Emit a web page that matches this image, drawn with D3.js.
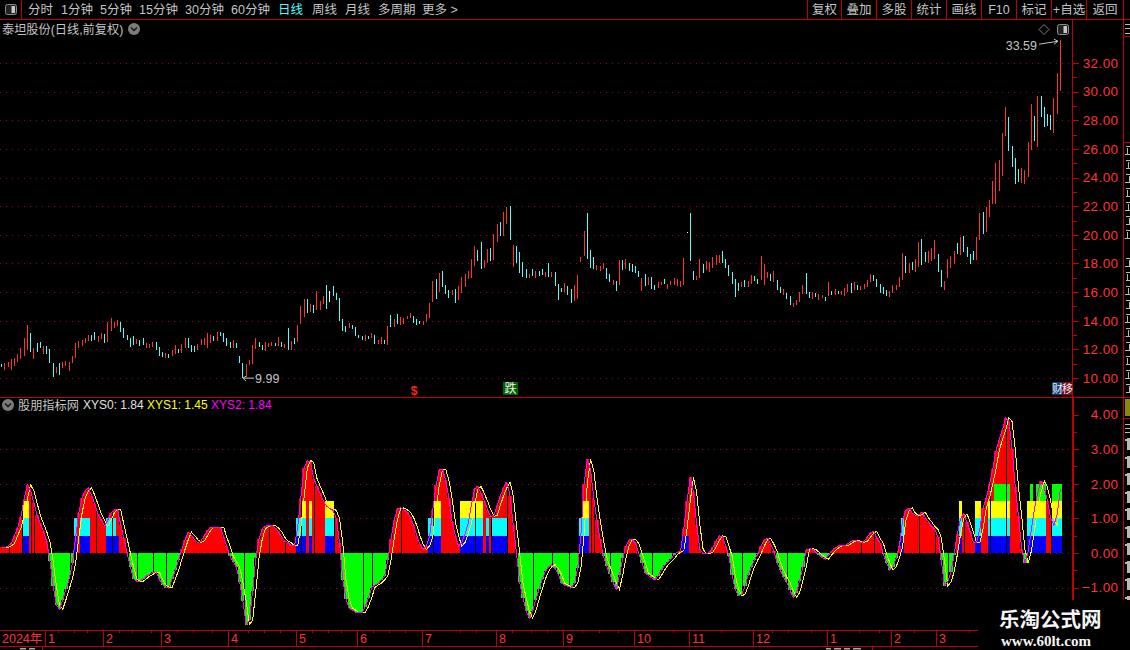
<!DOCTYPE html>
<html>
<head>
<meta charset="utf-8">
<style>
html, body { margin: 0; padding: 0; background: #000; overflow: hidden; }
text { font-family: "Liberation Sans", "Noto Sans CJK SC", sans-serif; }
</style>
<script src="https://cdn.jsdelivr.net/npm/d3@7"></script>
</head>
<body>
<div id="chart"></div>
<script>
// daily bars
const dayHigh = [
  10.98,11.07,11.12,11.3,11.4,11.65,12.1,12.8,13.7,13.15,
  12.1,12.45,12.5,12.24,12.24,12.03,11.05,10.77,11.05,11.12,
  11.2,11.12,11.54,12.45,12.6,12.66,12.8,13,13,13.2,
  12.94,13.15,13.08,13.9,14.2,13.9,14.05,13.9,13.5,13,
  12.8,12.94,12.7,12.66,12.8,12.45,12.38,12.5,12.5,12.17,
  11.8,11.75,11.68,11.96,12.3,12.03,12.38,12.8,12.8,12.3,
  12.24,12.38,12.7,12.8,13.15,13,12.94,13.2,13.2,13.15,
  12.8,12.5,12.66,12.45,11.54,11.05,10.98,11.26,12.3,12.8,
  12.5,12.3,12.5,12.45,12.5,12.45,12.87,
  12.52,12.38,13.5,12.6,12.8,13.7,15.03,15.5,15.5,15.17,
  15.1,16.08,15.38,15.73,16.5,16.08,16.43,15.94,15.6,14.13,
  13.64,13.85,13.7,13.57,13,12.94,13,12.94,13.15,13,
  12.66,12.87,12.66,13.64,14.4,14.13,14.48,14.27,14.2,14.34,
  14.55,14.34,14.13,13.99,13.99,14.48,15.24,16.78,16.9,17.34,
  17.48,16.5,16.15,16.15,16.22,16.43,17.06,17.27,17.48,18.32,
  19.23,18.95,19.5,18.25,19.02,19.09,20.07,20.77,20.9,21.6,
  21.96,22.03,19.3,19.23,18.8,18.1,17.62,17.27,17.62,17.48,
  17.48,17.62,17.41,18.04,17.41,17.41,16.57,
  16.3,16.64,16.43,16.22,16.5,17.2,18.46,20.28,21.54,18.95,
  18.46,17.9,17.83,18.04,17.69,17.27,16.85,16.78,18.25,18.25,
  18.32,18.04,17.97,17.83,17.48,16.99,17.27,17.06,17.06,16.5,
  16.71,16.71,16.92,16.57,16.78,16.99,16.92,16.78,18.39,20.2,
  21.54,17.48,17.13,18.32,17.97,18.18,18.11,18.46,18.6,18.6,
  18.88,18.32,17.9,17.41,16.92,16.64,16.71,16.85,16.78,17.2,
  17.13,16.92,18.53,17.97,17.41,17.27,17.48,16.85,16.36,16.22,
  15.94,15.73,15.24,15.45,16,16.5,17.34,16,16,15.94,
  15.87,15.8,15.66,16.71,16.08,16.22,16.08,
  16.08,16.29,16.57,16.64,16.71,16.5,16.43,16.57,16.85,17.27,
  17.2,16.92,16.57,16.36,16.15,16.08,16.5,16.5,17.06,18.74,
  18.53,18.04,18.11,18.32,19.5,19.72,18.81,18.88,19.09,19.65,
  18.67,17.55,16.78,18.32,18.53,18.88,19.44,19.86,19.93,19.16,
  18.67,18.88,19.86,21.54,21.6,21.96,22.45,23.78,25.03,25.24,
  27.13,28.95,28.25,26.22,25.38,24.62,24.69,24.55,26.5,29.16,
  28.32,29.72,29.72,28.95,28.46,28.39,29.58,31.33,33.59
];
const dayLow = [
  10.77,10.56,10.75,10.56,10.84,11.12,11.33,11.54,11.96,11.8,
  11.33,11.8,12.1,11.68,11.68,11.05,10.07,10.33,10.2,10.7,
  10.84,10.49,11.05,11.4,12.1,12.24,12.45,12.6,12.6,12.66,
  12.5,12.7,12.45,12.5,13.29,13.5,13.6,13.2,12.8,12.66,
  12.17,12.3,12.38,12.24,12.3,12.1,12.1,12.17,11.96,11.54,
  11.47,11.4,11.4,11.54,11.68,11.75,11.75,12.1,12.1,11.8,
  11.8,11.96,12.3,12.3,12.1,12.45,12.6,12.6,12.94,12.5,
  12.24,12.1,12.1,12.1,11.05,9.99,10.07,10.9,10.98,12.03,
  12.17,11.96,11.9,12.17,12.24,12.24,12.24,
  12.17,12.07,11.96,11.96,12.38,12.5,13.78,14.27,14.55,14.6,
  14.55,14.75,14.75,15.17,14.83,15.3,15.73,15.45,13.99,13.29,
  13.2,13.5,13.43,12.94,12.8,12.66,12.6,12.73,12.8,12.38,
  12.38,12.38,12.38,12.3,13.57,13.57,13.78,13.7,13.78,14.13,
  14.2,13.85,13.7,13.78,13.7,13.92,14.2,15.3,15.52,16,
  16.36,15.87,15.6,15.8,15.24,15.45,15.94,16.36,16.92,16.99,
  17.83,18.18,17.62,17.69,18.04,18.18,18.25,19.5,19.93,19.93,
  20.77,19.65,17.76,18.04,17.34,17.06,16.99,16.99,17.13,16.99,
  17.13,17.2,17.06,17.06,17.06,16.43,15.45,
  16,16,15.8,15.24,15.38,15.52,18.1,18.53,18.32,17.69,
  17.62,17.55,17.48,17.62,16.92,16.71,16.5,16.08,16.5,17.55,
  17.62,17.48,17.41,17.34,17.06,16.08,16.43,16.5,16.22,16.15,
  16.29,16.5,16.57,16.22,16.5,16.5,16.43,16.36,16.5,20.14,
  18.18,16.85,16.85,16.99,17.34,17.55,17.41,17.69,17.9,18.04,
  18.04,17.69,17.13,16.57,15.66,16.08,16.36,16.36,16.36,16.57,
  16.78,16.57,16.85,16.5,16.99,16.78,16.71,16.15,15.94,15.8,
  15.52,15.1,14.97,15.1,15.31,15.87,15.87,15.6,15.52,15.66,
  15.45,15.6,15.38,15.73,15.8,15.8,15.87,
  15.8,15.73,16.01,15.94,16.15,16.15,16.15,16.22,16.36,16.71,
  16.78,16.36,15.94,15.87,15.73,15.66,15.94,16.15,16.36,16.85,
  17.34,17.34,17.55,17.41,17.76,17.9,18.11,18.04,18.18,18.32,
  17.41,16.36,16.15,16.99,17.69,17.97,18.67,18.6,18.81,18.46,
  17.97,18.25,18.25,19.65,20.07,20.2,21.26,22.14,22.14,23.08,
  24.13,26.92,25.87,24.76,23.57,23.71,23.64,23.57,24.06,25.94,
  26.57,26.15,28.25,27.55,27.62,27.34,27.13,28.46,30.07
];
// 1 close above open, -1 close below open, 0 flat
const dayDir = [
  -1,1,1,1,1,1,1,1,1,-1,
  1,-1,-1,1,-1,-1,-1,1,-1,1,
  1,1,1,1,1,1,1,1,-1,-1,
  1,1,-1,1,1,1,1,-1,-1,-1,
  -1,-1,1,-1,-1,1,1,1,-1,-1,
  -1,1,-1,1,1,-1,1,1,-1,-1,
  -1,1,1,1,1,1,-1,1,-1,-1,
  -1,-1,1,-1,-1,-1,1,1,1,1,
  -1,-1,1,1,1,-1,1,
  -1,1,-1,1,-1,1,1,1,-1,1,
  -1,1,1,1,-1,0,-1,-1,-1,-1,
  -1,1,-1,-1,-1,-1,1,-1,1,-1,
  1,1,-1,1,-1,1,-1,1,1,1,
  1,-1,-1,-1,1,1,1,1,-1,1,
  -1,-1,-1,1,-1,1,1,1,1,1,
  1,-1,-1,1,1,-1,1,1,-1,1,
  1,-1,1,-1,-1,-1,-1,1,-1,1,
  -1,-1,1,-1,1,-1,-1,
  -1,1,-1,-1,1,1,1,1,-1,-1,
  -1,1,1,1,-1,-1,1,-1,1,-1,
  1,-1,-1,-1,-1,1,-1,1,-1,-1,
  1,1,-1,1,1,1,1,1,1,0,
  -1,-1,1,1,-1,1,1,1,1,1,
  -1,-1,-1,-1,-1,-1,1,-1,1,1,
  -1,-1,1,1,1,-1,1,-1,-1,1,
  -1,-1,1,1,1,1,-1,-1,1,-1,
  1,1,-1,1,-1,1,-1,
  1,1,1,-1,1,-1,1,1,1,1,
  -1,-1,-1,-1,-1,1,1,1,1,1,
  -1,1,-1,1,1,-1,-1,1,1,1,
  -1,-1,1,1,1,1,-1,1,-1,-1,
  -1,-1,1,1,-1,1,1,1,1,1,
  1,1,-1,-1,-1,-1,1,1,1,1,
  -1,1,-1,-1,-1,-1,1,1,1
];

// indicator lines
const xys2 = [
  .16,.16,.2,.27,.5,.72,1.05,1.55,1.97,1.8,
  1.45,1.1,.85,.62,.33,-.22,-.95,-1.5,-1.63,-1.35,
  -1.05,-.75,-.3,.45,1.15,1.6,1.8,1.88,1.65,1.4,
  1.12,.95,.77,.95,1.15,1.25,1.25,.82,.42,0,
  -.4,-.75,-.82,-.82,-.75,-.67,-.62,-.56,-.55,-.76,
  -.92,-1,-1,-.75,-.5,-.2,.1,.38,.6,.5,
  .38,.3,.35,.5,.65,.74,.73,.72,.74,.45,
  .19,-.1,-.25,-.42,-.85,-1.4,-2.07,-1.95,-1.1,-.15,
  .4,.7,.77,.8,.8,.72,.62,.45,.34,.3,
  .2,.2,.75,1.6,2.45,2.67,2.62,2.15,1.93,1.72,
  1.49,1.35,1.28,1.23,1,.3,-.77,-1.33,-1.6,-1.65,
  -1.72,-1.73,-1.73,-1.55,-1.3,-1,-.93,-.88,-.78,-.68,
  -.2,.4,.95,1.28,1.3,1.25,1.18,1.03,.8,.5,
  .25,.1,.2,.48,1.25,1.95,2.4,2.42,2.1,1.58,
  .9,.5,.19,.3,.55,.85,1.4,1.85,1.92,1.72,
  1.5,1.25,1.06,1.08,1.38,1.65,1.88,2.05,1.65,.8,
  0,-.85,-1.3,-1.68,-1.88,-1.68,-1.35,-1.05,-.75,-.53,
  -.4,-.34,-.45,-.62,-.88,-.93,-.97,-1,-.88,-.45,
  .5,2,2.7,2.4,1.6,.95,.39,-.1,-.38,-.6,
  -.85,-1.05,-.65,-.15,.2,.38,.38,.28,0,-.28,
  -.58,-.65,-.72,-.78,-.66,-.5,-.36,-.27,-.17,-.05,
  .02,.06,.7,1.5,2.18,1.75,.8,.1,-.02,-.02,
  .02,.16,.35,.49,.48,.2,-.08,-.65,-1.05,-1.24,
  -1.2,-.97,-.65,-.4,-.2,-.03,.2,.38,.42,.25,
  .05,-.28,-.5,-.7,-.85,-1.08,-1.28,-1.15,-.8,-.42,
  .08,.12,.1,.02,-.06,-.13,-.18,-.05,.05,.14,
  .2,.21,.21,.27,.33,.37,.34,.31,.33,.45,
  .58,.62,.42,.28,-.03,-.28,-.5,-.4,-.15,.19,
  .95,1.22,1.3,1.14,1.08,1.1,1.18,1.02,.9,.77,
  .68,.45,-.2,-.95,-.85,-.55,-.05,.55,1,1.13,
  .88,.6,.29,.3,.7,1.3,1.6,1.98,2.42,2.95,
  3.27,3.55,3.9,3.8,3,1.9,1.06,.1,-.3,.05,
  .68,1.3,1.75,2.08,1.9,1.5,1,.8,1.1,1.84
];
const xys1 = [
  .16,.16,.16,.2,.27,.5,.72,1.05,1.55,1.97,
  1.8,1.45,1.1,.85,.62,.33,-.22,-.95,-1.5,-1.63,
  -1.35,-1.05,-.75,-.3,.45,1.15,1.6,1.8,1.88,1.65,
  1.4,1.12,.95,.77,.95,1.15,1.25,1.25,.82,.42,
  0,-.4,-.75,-.82,-.82,-.75,-.67,-.62,-.56,-.55,
  -.76,-.92,-1,-1,-.75,-.5,-.2,.1,.38,.6,
  .5,.38,.3,.35,.5,.65,.74,.73,.72,.74,
  .45,.19,-.1,-.25,-.42,-.85,-1.4,-2.07,-1.95,-1.1,
  -.15,.4,.7,.77,.8,.8,.72,.62,.45,.34,
  .3,.2,.2,.75,1.6,2.45,2.67,2.62,2.15,1.93,
  1.72,1.49,1.35,1.28,1.23,1,.3,-.77,-1.33,-1.6,
  -1.65,-1.72,-1.73,-1.73,-1.55,-1.3,-1,-.93,-.88,-.78,
  -.68,-.2,.4,.95,1.28,1.3,1.25,1.18,1.03,.8,
  .5,.25,.1,.2,.48,1.25,1.95,2.4,2.42,2.1,
  1.58,.9,.5,.19,.3,.55,.85,1.4,1.85,1.92,
  1.72,1.5,1.25,1.06,1.08,1.38,1.65,1.88,2.05,1.65,
  .8,0,-.85,-1.3,-1.68,-1.88,-1.68,-1.35,-1.05,-.75,
  -.53,-.4,-.34,-.45,-.62,-.88,-.93,-.97,-1,-.88,
  -.45,.5,2,2.7,2.4,1.6,.95,.39,-.1,-.38,
  -.6,-.85,-1.05,-.65,-.15,.2,.38,.38,.28,0,
  -.28,-.58,-.65,-.72,-.78,-.66,-.5,-.36,-.27,-.17,
  -.05,.02,.06,.7,1.5,2.18,1.75,.8,.1,-.02,
  -.02,.02,.16,.35,.49,.48,.2,-.08,-.65,-1.05,
  -1.24,-1.2,-.97,-.65,-.4,-.2,-.03,.2,.38,.42,
  .25,.05,-.28,-.5,-.7,-.85,-1.08,-1.28,-1.15,-.8,
  -.42,.08,.12,.1,.02,-.06,-.13,-.18,-.05,.05,
  .14,.2,.21,.21,.27,.33,.37,.34,.31,.33,
  .45,.58,.62,.42,.28,-.03,-.28,-.5,-.4,-.15,
  .19,.95,1.22,1.3,1.14,1.08,1.1,1.18,1.02,.9,
  .77,.68,.45,-.2,-.95,-.85,-.55,-.05,.55,1,
  1.13,.88,.6,.29,.3,.7,1.3,1.6,1.98,2.42,
  2.95,3.27,3.55,3.9,3.8,3,1.9,1.06,.1,-.3,
  .05,.68,1.3,1.75,2.08,1.9,1.5,1,.8,1.45
];

// coloured blocks in the indicator: first day, last day, how many 0.5 steps high
const stackFirst = [7,23,25,33,36,92,94,96,101,133,135,143,151,153,180,181,212,280,298,303,307,309,319,320,321,322,327];
const stackLast  = [8,23,27,35,36,93,94,96,103,134,136,149,151,157,180,182,213,280,298,304,308,313,319,320,321,324,329];
const stackSteps = [3,2,2,2,1,2,3,3,3,2,3,3,2,2,2,3,1,2,3,3,3,4,3,4,3,4,4];
// days where the histogram shows a 1px hole
const gapDays = [2,6,9,10,21,29,34,42,47,51,75,83,88,93,97,103,112,115,124,134,147,152,157,165,171,176,183,184,189,202,208,217,221,230,239,244,267,271,285,290,294,299,307,312,326];

const priceTicks = [10,12,14,16,18,20,22,24,26,28,30,32];
const priceMinor = [11,13,15,17,19,21,23,25,27,29,31];
const indTicks = [-1,0,1,2,3,4];
const indMinor = [-0.5,0.5,1.5,2.5,3.5];
const indGrid = [-1,0,1,2,3];

const monthDays = [14,32,50,71,92,111,131,154,175,197,214,234,257,277,291];
const monthLabels = ["1","2","3","4","5","6","7","8","9","10","11","12","1","2","3"];
const minorDays = [18,23,27,37,41,47,55,60,66,77,82,87,97,102,106,116,121,126,143,148,159,165,170,181,186,192,209,224,240,245,252,267,273,284,301];

const toolLabels = ["分时","1分钟","5分钟","15分钟","30分钟","60分钟","日线","周线","月线","多周期","更多 >"];
const toolX = [28,61,100,139,185,231,278,312,345,378,422];
const buttonLabels = ["复权","叠加","多股","统计","画线","F10","标记","+自选","返回"];
const buttonEdges = [807.5,841.5,876.5,911.5,946.5,981.5,1016.5,1051.5,1086.5,1123.5];

const width = 1130, height = 650;
const RED = "#ff3232", LINE = "#c00000", GRID = "#8c1010", GREY = "#c4c4c4";

const svg = d3.select("#chart").append("svg")
    .attr("width", width)
    .attr("height", height)
    .style("display", "block");

const x = d3.scaleBand()
    .domain(d3.range(dayHigh.length))
    .range([0, dayHigh.length * 3.218]);
const xMid = i => Math.round(x(i) + x.step() / 2 - 0.5);
const xLeft = i => Math.round(x(i));
const yPrice = d3.scaleLinear().domain([10, 32]).range([378, 63]);
const yInd = d3.scaleLinear().domain([-1, 4]).range([587.5, 414.5]);

function label(s, px, py, size, color, anchor) {
    return svg.append("text")
        .attr("x", px)
        .attr("y", py)
        .attr("font-size", size)
        .attr("fill", color)
        .attr("text-anchor", anchor || "start")
        .text(s);
}
function rule(x1, y1, x2, y2, color, w) {
    svg.append("line")
        .attr("x1", x1).attr("y1", y1).attr("x2", x2).attr("y2", y2)
        .attr("stroke", color)
        .attr("stroke-width", w || 1)
        .attr("shape-rendering", "crispEdges");
}
function chevron(cx, cy) {
    svg.append("circle").attr("cx", cx).attr("cy", cy).attr("r", 6).attr("fill", "#7c7c7c");
    svg.append("path")
        .attr("d", `M${cx - 3},${cy - 1.5}L${cx},${cy + 1.5}L${cx + 3},${cy - 1.5}`)
        .attr("fill", "none").attr("stroke", "#111").attr("stroke-width", 1.4);
}
function panelIcon(px, py, w, h) {
    svg.append("rect").attr("x", px + 0.5).attr("y", py + 0.5).attr("width", w).attr("height", h)
        .attr("rx", 2).attr("fill", "#222").attr("stroke", "#8c8c8c");
    svg.append("rect").attr("x", px + w / 2 + 1).attr("y", py + 2).attr("width", w / 2 - 2).attr("height", h - 3)
        .attr("fill", "#c8c8c8");
}

// grid
priceTicks.forEach(v => {
    svg.append("line")
        .attr("x1", 0).attr("x2", 1072)
        .attr("y1", Math.round(yPrice(v)) + 0.5).attr("y2", Math.round(yPrice(v)) + 0.5)
        .attr("stroke", GRID).attr("stroke-dasharray", "1,5")
        .attr("shape-rendering", "crispEdges");
});
indGrid.forEach(v => {
    svg.append("line")
        .attr("x1", 0).attr("x2", 1072)
        .attr("y1", Math.round(yInd(v)) + 0.5).attr("y2", Math.round(yInd(v)) + 0.5)
        .attr("stroke", GRID).attr("stroke-dasharray", "1,5")
        .attr("shape-rendering", "crispEdges");
});

// candles
svg.append("g").attr("shape-rendering", "crispEdges")
    .selectAll("rect")
    .data(d3.range(dayHigh.length))
    .join("rect")
    .attr("x", i => xMid(i))
    .attr("y", i => yPrice(dayHigh[i]))
    .attr("width", 1)
    .attr("height", i => Math.max(1, yPrice(dayLow[i]) - yPrice(dayHigh[i])))
    .attr("fill", i => dayDir[i] > 0 ? RED : dayDir[i] < 0 ? "#54fcfc" : "#ffffff");

// histogram, xys0 reads the same as xys2 on every day
const xys0 = xys2;
const barWidth = i => xLeft(i + 1 < xys0.length ? i + 1 : i) - xLeft(i) + (i + 1 < xys0.length ? 0 : 3) - (gapDays.includes(i) ? 1 : 0);
svg.append("g").attr("shape-rendering", "crispEdges")
    .selectAll("rect")
    .data(xys0)
    .join("rect")
    .attr("x", (d, i) => xLeft(i))
    .attr("y", d => d > 0 ? yInd(d) : yInd(0))
    .attr("width", (d, i) => barWidth(i))
    .attr("height", d => Math.abs(yInd(d) - yInd(0)))
    .attr("fill", d => d > 0 ? "#ff0000" : "#00ff00");

// blocks
const stepColors = ["#0000ff", "#00ffff", "#ffff00", "#00ff00"];
const blocks = [];
stackFirst.forEach((first, k) => {
    d3.range(first, stackLast[k] + 1).forEach(day => {
        d3.range(stackSteps[k]).forEach(s => blocks.push({ day, s }));
    });
});
svg.append("g").attr("shape-rendering", "crispEdges")
    .selectAll("rect")
    .data(blocks)
    .join("rect")
    .attr("x", d => xLeft(d.day))
    .attr("y", d => yInd((d.s + 1) * 0.5))
    .attr("width", d => barWidth(d.day))
    .attr("height", d => yInd(d.s * 0.5) - yInd((d.s + 1) * 0.5))
    .attr("fill", d => stepColors[d.s]);

// indicator lines
const indLine = d3.line()
    .x((d, i) => x(i) + x.step() / 2)
    .y(d => yInd(d));
svg.append("path").datum(xys1)
    .attr("d", indLine).attr("fill", "none").attr("stroke", "#ffff00")
    .attr("stroke-width", 1).attr("shape-rendering", "crispEdges");
svg.append("path").datum(xys2)
    .attr("d", indLine).attr("fill", "none").attr("stroke", "#ff00ff")
    .attr("stroke-width", 1).attr("shape-rendering", "crispEdges");

// price axis
const fmt = d3.format(".2f");
function drawAxis(scale, ticks, minor) {
    const g = svg.append("g").attr("transform", "translate(1072.5,0)");
    g.call(d3.axisRight(scale).tickValues(ticks).tickSize(6).tickFormat(fmt));
    g.select(".domain").remove();
    g.selectAll("line").attr("stroke", LINE).attr("shape-rendering", "crispEdges");
    g.selectAll("text")
        .attr("x", 46)
        .attr("text-anchor", "end")
        .attr("fill", RED)
        .attr("font-size", 13.5)
        .attr("letter-spacing", 0.4);
    const m = svg.append("g").attr("transform", "translate(1072.5,0)");
    m.call(d3.axisRight(scale).tickValues(minor).tickSize(4).tickFormat(""));
    m.select(".domain").remove();
    m.selectAll("line").attr("stroke", LINE).attr("shape-rendering", "crispEdges");
}
drawAxis(yPrice, priceTicks, priceMinor);
drawAxis(yInd, indTicks, indMinor);

// time axis
rule(0, 630.5, 1130, 630.5, LINE);
rule(0, 646.5, 1130, 646.5, LINE);
monthDays.forEach((d, k) => {
    rule(xLeft(d) + 0.5, 630, xLeft(d) + 0.5, 646, LINE);
    label(monthLabels[k], xLeft(d) + 3, 643, 12.5, RED);
});
minorDays.forEach(d => rule(xLeft(d) + 0.5, 630, xLeft(d) + 0.5, 633, LINE));
label("2024年", 2, 643, 12.5, RED);
rule(42.5, 646, 42.5, 650, LINE);
rule(872.5, 646, 872.5, 650, LINE);
// tops of a tab row that the crop cuts off
[[20, 6], [29, 6], [826, 5], [834, 7], [844, 6], [853, 8]].forEach(d => {
    svg.append("rect").attr("x", d[0]).attr("y", 648).attr("width", d[1]).attr("height", 1.5).attr("fill", "#a8a8a8");
});

// frame
rule(0, 19.5, 1130, 19.5, LINE);
rule(21.5, 0, 21.5, 19, LINE);
rule(0, 397.5, 1123, 397.5, LINE);
rule(1072.5, 19, 1072.5, 397, LINE);
rule(1072.5, 397, 1072.5, 600, LINE, 2);
rule(1123.5, 19, 1123.5, 600, LINE);
buttonEdges.forEach(e => rule(e, 0, e, 19, LINE));
[36, 142, 238, 336, 397, 418].forEach(py => rule(1123, py + 0.5, 1130, py + 0.5, LINE));

// toolbar
panelIcon(5, 4, 11, 10);
toolLabels.forEach((s, k) => label(s, toolX[k], 14, 12.5, s === "日线" ? "#54fcfc" : GREY));
buttonLabels.forEach((s, k) => {
    label(s, (buttonEdges[k] + buttonEdges[k + 1]) / 2, 14, 12.5, GREY, "middle");
});

// titles
label("泰坦股份(日线,前复权)", 2, 34, 12.2, GREY);
chevron(134, 29);
chevron(8, 405);
label("股朋指标网", 18, 410, 12.2, GREY);
label("XYS0: " + xys0[xys0.length - 1].toFixed(2), 83, 409, 12, "#e0e0e0");
label("XYS1: " + xys1[xys1.length - 1].toFixed(2), 147, 409, 12, "#ffff00");
label("XYS2: " + xys2[xys2.length - 1].toFixed(2), 211, 409, 12, "#ff00ff");

// high and low notes
const lowDay = dayLow.indexOf(d3.min(dayLow));
const highDay = dayHigh.indexOf(d3.max(dayHigh));
const lowY = yPrice(d3.min(dayLow));
const highY = yPrice(d3.max(dayHigh));
svg.append("path")
    .attr("d", `M${xMid(lowDay) + 1},${lowY}h11M${xMid(lowDay) + 1},${lowY}l3,-2M${xMid(lowDay) + 1},${lowY}l3,3`)
    .attr("fill", "none").attr("stroke", GREY);
label(d3.min(dayLow).toFixed(2), xMid(lowDay) + 13, lowY + 5, 12.5, GREY);
svg.append("path")
    .attr("d", `M${xMid(highDay) - 21},${highY + 4}L${xMid(highDay) - 2},${highY + 1}M${xMid(highDay) - 2},${highY + 1}l-4,-2M${xMid(highDay) - 2},${highY + 1}l-4,3`)
    .attr("fill", "none").attr("stroke", GREY);
label(d3.max(dayHigh).toFixed(2), xMid(highDay) - 23, highY + 10, 12.5, GREY, "end");

// corner icons
svg.append("path").attr("d", "M1044,24.5l5,5l-5,5l-5,-5z").attr("fill", "none").attr("stroke", "#808080");
panelIcon(1057, 24, 11, 10);

// event marks
label("$", 414, 395, 12, "#ff2020", "middle").attr("font-weight", "bold");
svg.append("rect").attr("x", 503).attr("y", 382).attr("width", 15).attr("height", 13).attr("fill", "#006400");
label("跌", 510.5, 393, 12, "#f0f0f0", "middle");
svg.append("rect").attr("x", 1052).attr("y", 382).attr("width", 10).attr("height", 13).attr("fill", "#10407a");
svg.append("rect").attr("x", 1062).attr("y", 382).attr("width", 10).attr("height", 13).attr("fill", "#7a0a20");
label("财", 1052, 393, 11, "#f0f0f0");
label("移", 1062, 393, 11, "#f0f0f0");

// side panel is cut off by the crop, only scraps of it show
const scrap = (px, py, w, h) => svg.append("rect").attr("x", px).attr("y", py)
    .attr("width", w).attr("height", h).attr("fill", "#b8b8b8").attr("shape-rendering", "crispEdges");
d3.range(146, 392, 14).forEach((py, k) => {
    if (py > 232 && py < 245) return;
    scrap(1126, py, 4, 1);
    scrap(1127 + k % 3, py + 2, 1, 6);
    scrap(1125 + k % 2, py + 8, 5, 1);
});
[24, 28, 33, 424, 428, 432].forEach(py => scrap(1125, py, 5, 1));
svg.append("rect").attr("x", 1125).attr("y", 399).attr("width", 5).attr("height", 17).attr("fill", "#8a8a00");
d3.range(438, 600, 17.5).forEach(py => {
    scrap(1127, py, 3, 12);
    scrap(1125, py + 1, 2, 2);
});

// watermark
svg.append("rect").attr("x", 978).attr("y", 600).attr("width", 152).attr("height", 50).attr("fill", "#000");
label("乐淘公式网", 999, 627, 20.5, "#f4f4f4").attr("font-weight", "bold");
label("www.60lt.com", 1001, 646, 15, "#f4f4f4")
    .attr("font-weight", "bold")
    .style("font-family", "'Liberation Serif', serif");
</script>
</body>
</html>
